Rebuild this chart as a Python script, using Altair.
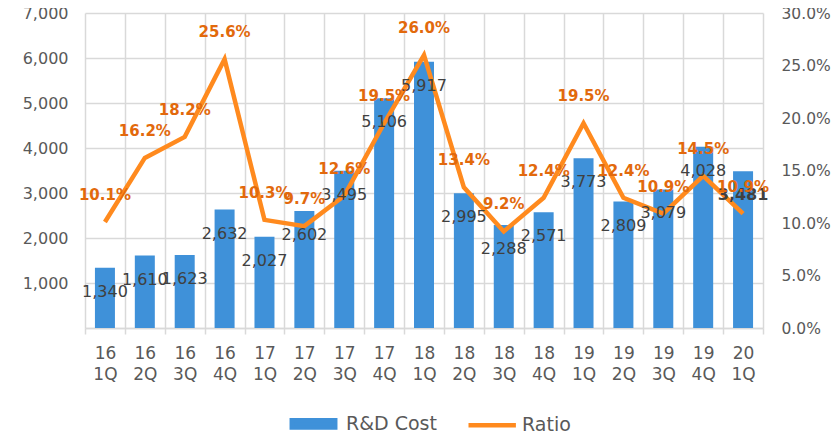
import altair as alt
import pandas as pd

quarters = ["16 1Q", "16 2Q", "16 3Q", "16 4Q", "17 1Q", "17 2Q", "17 3Q", "17 4Q",
            "18 1Q", "18 2Q", "18 3Q", "18 4Q", "19 1Q", "19 2Q", "19 3Q", "19 4Q", "20 1Q"]
rd_cost = [1340, 1610, 1623, 2632, 2027, 2602, 3495, 5106, 5917, 2995, 2288, 2571,
           3773, 2809, 3079, 4028, 3481]
ratio = [0.101, 0.162, 0.182, 0.256, 0.103, 0.097, 0.126, 0.195, 0.260, 0.134, 0.092,
         0.124, 0.195, 0.124, 0.109, 0.145, 0.109]
left_ticks = [0, 1000, 2000, 3000, 4000, 5000, 6000, 7000]
right_ticks = [0, 0.05, 0.10, 0.15, 0.20, 0.25, 0.30]
series = ["R&D Cost", "Ratio"]

df = pd.DataFrame({"q": quarters, "cost": rd_cost, "ratio": ratio,
                   "sb": series[0], "sl": series[1],
                   "last": [i == len(quarters) - 1 for i in range(len(quarters))]})

FONT = "DejaVu Sans"
GRID = "#d9d9d9"
BLUE = "#3f91d9"
ORANGE = "#ff8a1e"
LABEL_ORANGE = "#e2690c"
TXT = "#595959"

x = alt.X("q:N", sort=quarters, title=None,
          scale=alt.Scale(paddingInner=0, paddingOuter=0),
          axis=alt.Axis(labelAngle=0, labelExpr="split(datum.label, ' ')",
                        labelLineHeight=21, labelFontSize=17, labelColor=TXT,
                        labelFont=FONT, tickBand="extent", grid=True, gridColor=GRID,
                        gridWidth=1.5, ticks=True, tickColor=GRID, tickWidth=1.5,
                        tickSize=6, domainColor=GRID, domainWidth=1.5, labelPadding=11))

yl_scale = alt.Scale(domain=[0, 7000], nice=False)
yr_scale = alt.Scale(domain=[0, 0.3], nice=False)
color_scale = alt.Scale(domain=series, range=[BLUE, ORANGE])

legend = alt.Legend(
    title=None, orient="none", legendX=201, legendY=401, direction="horizontal",
    symbolSize=144, labelOffset=41, columnPadding=22, labelFontSize=19,
    labelColor=TXT, labelFont=FONT, padding=0, symbolStrokeWidth=4.5, symbolOpacity=1,
    symbolType=alt.ExprRef(
        expr="datum.value === 'Ratio' ? 'M-0.5,0H7.4' : 'M-0.62,-0.62H6.62V0.62H-0.62Z'"),
    symbolStrokeColor=alt.ExprRef(
        expr="datum.value === 'Ratio' ? '" + ORANGE + "' : '" + BLUE + "'"),
    symbolFillColor=alt.ExprRef(
        expr="datum.value === 'Ratio' ? 'transparent' : '" + BLUE + "'"),
)

base = alt.Chart(df)

bars = base.mark_bar(size=20).encode(
    x=x,
    y=alt.Y("cost:Q", scale=yl_scale, title=None,
            axis=alt.Axis(values=left_ticks, orient="left", domain=False, ticks=False,
                          gridColor=GRID, gridWidth=1.5, labelFontSize=16, labelColor=TXT,
                          labelFont=FONT, labelPadding=17,
                          labelExpr="datum.value == 0 ? '' : format(datum.value, ',')")),
    color=alt.Color("sb:N", scale=color_scale, legend=legend),
)

line = base.mark_line(strokeWidth=4.5).encode(
    x=x,
    y=alt.Y("ratio:Q", scale=yr_scale, title=None,
            axis=alt.Axis(values=right_ticks, orient="right", format=".1%", grid=False,
                          domain=False, ticks=False, labelFontSize=15.5, labelColor=TXT,
                          labelFont=FONT, labelPadding=18)),
    color=alt.Color("sl:N", scale=color_scale, legend=legend),
)

bar_text = base.transform_filter("!datum.last").mark_text(
    dy=24, baseline="middle", fontSize=16, font=FONT, color="#404040").encode(
    x=x,
    y=alt.Y("cost:Q", scale=yl_scale, axis=None),
    text=alt.Text("cost:Q", format=","),
)

bar_text_last = base.transform_filter("datum.last").mark_text(
    dy=24, baseline="middle", fontSize=16, font=FONT, fontWeight="bold",
    color="#404040").encode(
    x=x,
    y=alt.Y("cost:Q", scale=yl_scale, axis=None),
    text=alt.Text("cost:Q", format=","),
)

line_text = base.mark_text(
    dy=-27, baseline="middle", fontSize=15, font=FONT, fontWeight="bold",
    color=LABEL_ORANGE).encode(
    x=x,
    y=alt.Y("ratio:Q", scale=yr_scale, axis=None),
    text=alt.Text("ratio:Q", format=".1%"),
)

chart = alt.layer(bars, line, bar_text, bar_text_last, line_text).resolve_scale(
    y="independent"
).properties(
    width=678, height=315,
    autosize=alt.AutoSizeParams(type="none"),
    padding={"left": 77, "top": 5, "right": 68, "bottom": 105},
).configure_view(strokeWidth=0)

chart.save("out.html", embed_options={"renderer": "svg", "actions": False})
